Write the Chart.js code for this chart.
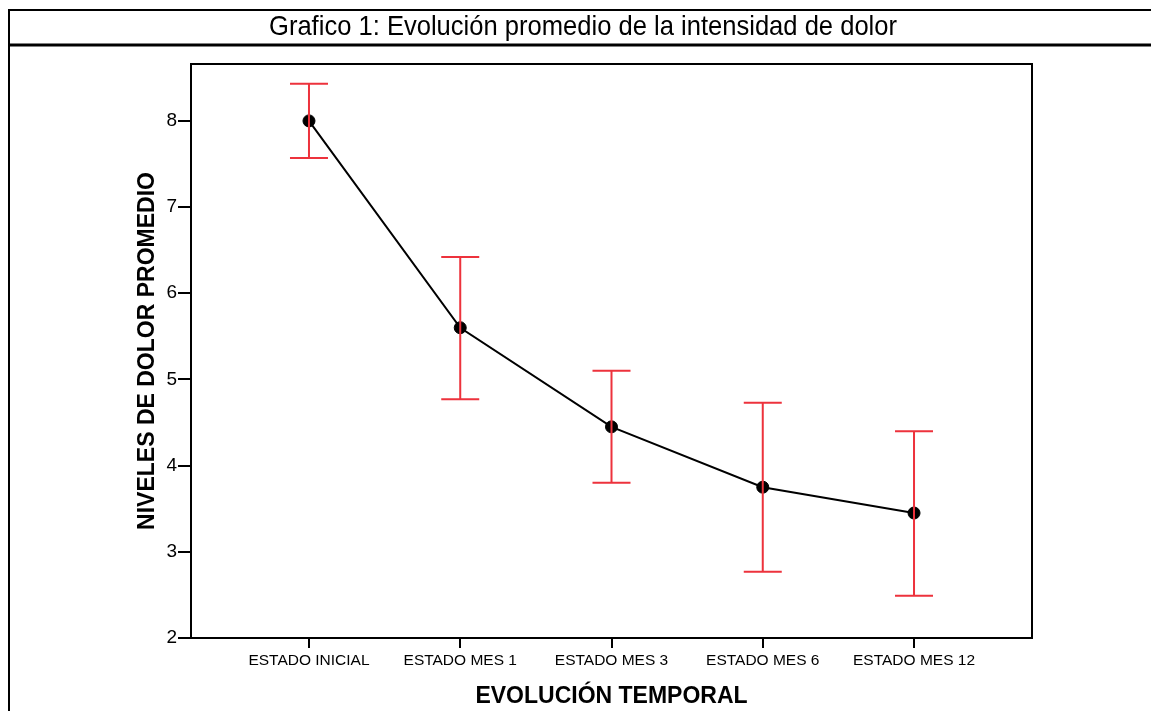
<!DOCTYPE html>
<html>
<head>
<meta charset="utf-8">
<title>Grafico 1</title>
<script src="https://cdn.jsdelivr.net/npm/chart.js@4"></script>
<style>
  body { margin: 0; background: #fff; }
  #wrap { width: 1151px; height: 711px; position: relative; }
</style>
</head>
<body>
<div id="wrap"><canvas id="myChart"></canvas></div>
<script>
// DATOS
const categories = ['ESTADO INICIAL', 'ESTADO MES 1', 'ESTADO MES 3', 'ESTADO MES 6', 'ESTADO MES 12'];
const meanPain = [8.00, 5.60, 4.45, 3.75, 3.45];
const lowerCI = [7.57, 4.77, 3.80, 2.77, 2.49];
const upperCI = [8.43, 6.42, 5.10, 4.73, 4.40];
const yTicks = [2, 3, 4, 5, 6, 7, 8];
const chartTitle = 'Grafico 1: Evolución promedio de la intensidad de dolor';

// marco, título y barras de error
const framePlugin = {
    id: 'frame',
    beforeDraw(chart) {
        const c = chart.ctx;
        c.save();
        c.fillStyle = '#fff';
        c.fillRect(0, 0, chart.width, chart.height);
        c.strokeStyle = '#000';
        c.lineWidth = 2;
        c.beginPath();
        c.moveTo(9, chart.height);
        c.lineTo(9, 10);
        c.lineTo(chart.width, 10);
        c.stroke();
        c.lineWidth = 3;
        c.beginPath();
        c.moveTo(9, 45);
        c.lineTo(chart.width, 45);
        c.stroke();
        // título estrecho (tipo Arial Narrow)
        c.fillStyle = '#000';
        c.font = '28px "Liberation Sans", Arial, sans-serif';
        c.textAlign = 'center';
        c.textBaseline = 'middle';
        const w = c.measureText(chartTitle).width;
        c.translate(583, 27);
        c.scale(628 / w, 1);
        c.fillText(chartTitle, 0, 0);
        c.restore();
    },
    afterDatasetsDraw(chart) {
        const c = chart.ctx;
        const x = chart.scales.x, y = chart.scales.y;
        c.save();
        c.strokeStyle = 'rgb(237, 50, 60)';
        c.lineWidth = 2;
        categories.forEach((cat, i) => {
            const px = x.getPixelForValue(i);
            const yl = y.getPixelForValue(lowerCI[i]);
            const yu = y.getPixelForValue(upperCI[i]);
            c.beginPath();
            c.moveTo(px, yl); c.lineTo(px, yu);
            c.moveTo(px - 19, yl); c.lineTo(px + 19, yl);
            c.moveTo(px - 19, yu); c.lineTo(px + 19, yu);
            c.stroke();
        });
        c.restore();
    },
    afterDraw(chart) {
        const a = chart.chartArea;
        const c = chart.ctx;
        c.save();
        c.strokeStyle = '#000';
        c.lineWidth = 2;
        c.strokeRect(a.left, a.top, a.right - a.left, a.bottom - a.top);
        c.restore();
    }
};

const ctx = document.getElementById('myChart');

const myChart = new Chart(ctx, {
    type: 'line',
    data: {
        datasets: [{
            label: 'Niveles de dolor promedio',
            data: meanPain.map((v, i) => ({ x: i, y: v })),
            borderColor: '#000',
            backgroundColor: '#000',
            borderWidth: 2,
            pointRadius: 6,
            pointBorderWidth: 1,
            pointBackgroundColor: '#000',
            tension: 0
        }]
    },
    options: {
        responsive: true,
        maintainAspectRatio: false,
        animation: false,
        layout: { padding: { left: 0, right: 119, top: 64, bottom: 0 } },
        plugins: {
            legend: { display: false },
            title: { display: false },
            tooltip: { enabled: false }
        },
        scales: {
            x: {
                type: 'linear',
                min: -0.78,
                max: 4.78,
                afterFit: s => { s.height = 73; },
                afterBuildTicks: s => { s.ticks = categories.map((c, i) => ({ value: i })); },
                ticks: {
                    color: '#000',
                    padding: 3,
                    maxRotation: 0,
                    autoSkip: false,
                    font: { family: '"Liberation Sans", Arial, sans-serif', size: 15.5 },
                    callback: v => categories[v]
                },
                grid: { drawOnChartArea: false, color: '#000', lineWidth: 2, tickLength: 10 },
                border: { color: '#000', width: 2 },
                title: {
                    display: true,
                    text: 'EVOLUCIÓN TEMPORAL',
                    color: '#000',
                    padding: { top: 0, bottom: 1 },
                    font: { family: '"Liberation Sans", Arial, sans-serif', size: 23, weight: 'bold' }
                }
            },
            y: {
                min: 2,
                max: 8.66,
                afterFit: s => { s.width = 191; },
                afterBuildTicks: s => { s.ticks = yTicks.map(v => ({ value: v })); },
                ticks: {
                    color: '#000',
                    padding: 1,
                    font: { family: '"Liberation Sans", Arial, sans-serif', size: 19 }
                },
                grid: { drawOnChartArea: false, color: '#000', lineWidth: 2, tickLength: 13 },
                border: { color: '#000', width: 2 },
                title: {
                    display: true,
                    text: 'NIVELES DE DOLOR PROMEDIO',
                    color: '#000',
                    padding: { top: 134, bottom: 0 },
                    font: { family: '"Liberation Sans", Arial, sans-serif', size: 23, weight: 'bold' }
                }
            }
        }
    },
    plugins: [framePlugin]
});
</script>
</body>
</html>
